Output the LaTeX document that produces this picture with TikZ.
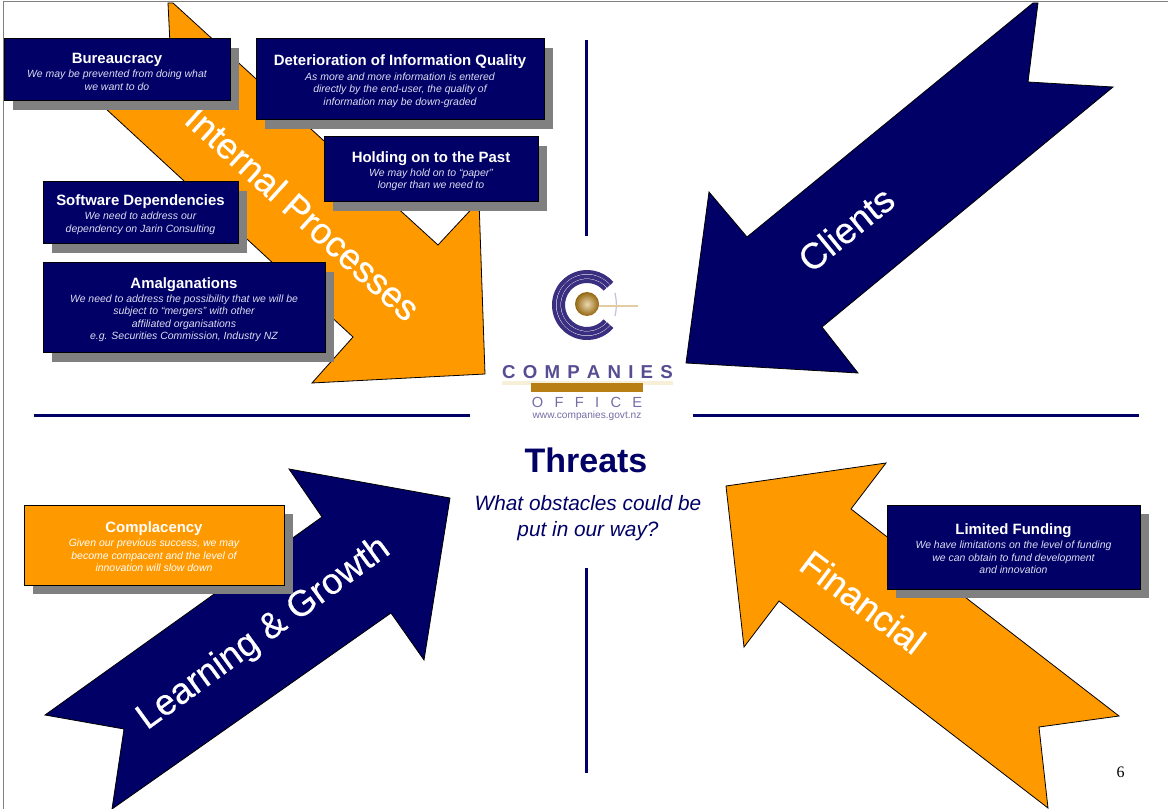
\documentclass[tikz,border=0pt]{standalone}
\usepackage{fontspec}
\usetikzlibrary{shadows}
\setmainfont{Liberation Sans}
\newfontfamily\pagefont{Liberation Serif}
\newfontfamily\arrowfont[FakeBold=0.5]{Liberation Sans}
\definecolor{navyfill}{HTML}{000066}
\definecolor{orangefill}{HTML}{FF9900}
\definecolor{shadowgray}{HTML}{808080}
\definecolor{logoblue}{HTML}{3A2E80}
\definecolor{logogold}{HTML}{B87F14}
\definecolor{logocream}{HTML}{F8EFD8}
\definecolor{notetext}{HTML}{DDDDF2}
\newcommand{\px}{.75pt}
\newcommand{\boxhead}[1]{{\fontsize{11.2pt}{11.5pt}\selectfont\normalfont\bfseries\color{white}\rule{0pt}{10.6pt}#1}\\[1.2pt]}
\tikzset{
  bigarrow/.style={draw=black,line width=.6pt,line join=miter},
  arrowlabel/.style={text=white,font=\arrowfont\fontsize{27.2pt}{30pt}\selectfont,inner sep=0pt},
  threatbox/.style={draw=black,line width=.75pt,fill=navyfill,align=center,inner sep=0pt,
    font=\fontsize{7.85pt}{9.4pt}\selectfont\itshape,text=notetext,
    drop shadow={shadow xshift=6.75pt,shadow yshift=-6.75pt,fill=shadowgray,opacity=1}},
  divider/.style={draw=navyfill,line width=2.25pt},
}
\begin{document}
\begin{tikzpicture}[x=.75pt,y=-.75pt]
\useasboundingbox (0,0) rectangle (1168,809);
\fill[white] (0,0) rectangle (1168,809);
\draw[gray,line width=.75pt] (3,809) -- (3,2) -- (1168,2);

% dividers
\draw[divider] (586,40) -- (586,236);
\draw[divider] (586,568) -- (586,773);
\draw[divider] (34,415) -- (470,415);
\draw[divider] (693,415) -- (1139,415);

% arrows
\draw[bigarrow,fill=orangefill] (168,3) -- (173,3) -- (438,245) -- (479,201) -- (485,374)
  -- (312,383) -- (353,337) -- (92,96) -- (172,85) -- cycle;
\draw[bigarrow,fill=navyfill] (1033,3) -- (1038,3) -- (1028,82) -- (1113,87) -- (822,327)
  -- (858,373) -- (686,363) -- (709,192) -- (747,237) -- cycle;
\draw[bigarrow,fill=navyfill] (289,469) -- (450,498) -- (424,660) -- (391,613) -- (112,809)
  -- (124,729) -- (45,715) -- (322,517) -- cycle;
\draw[bigarrow,fill=orangefill] (726,486) -- (886,463) -- (851,509) -- (1119,716) -- (1039,727)
  -- (1048,808) -- (779,601) -- (744,647) -- cycle;

\node[arrowlabel,rotate=-42] (internal) at (303,213) {Internal Processes};
\node[arrowlabel,rotate=39] (clients) at (846,229) {Clients};
\node[arrowlabel,rotate=36] (learning) at (264,634) {Learning \& Growth};
\node[arrowlabel,rotate=-37] (financial) at (863,602) {Financial};

% boxes
\node[threatbox,minimum width=226*\px,minimum height=62*\px] (bureaucracy) at (117,70)
  {\boxhead{Bureaucracy}We may be prevented from doing what\\we want to do};
\node[threatbox,minimum width=288*\px,minimum height=81*\px] (deterioration) at (400,79.5)
  {\boxhead{Deterioration of Information Quality}As more and more information is entered\\directly by the end-user, the quality of\\information may be down-graded};
\node[threatbox,minimum width=214*\px,minimum height=65*\px] (holding) at (431,169.5)
  {\boxhead{Holding on to the Past}We may hold on to “paper”\\longer than we need to};
\node[threatbox,minimum width=195*\px,minimum height=62*\px] (software) at (140.5,213)
  {\boxhead{Software Dependencies}We need to address our\\dependency on Jarin Consulting};
\node[threatbox,minimum width=282*\px,minimum height=90*\px] (amalgamations) at (184,308)
  {\boxhead{Amalganations}We need to address the possibility that we will be\\subject to “mergers” with other\\affiliated organisations\\e.g. Securities Commission, Industry NZ};
\node[threatbox,fill=orangefill,text=white,minimum width=260*\px,minimum height=80*\px] (complacency) at (154,545)
  {\boxhead{Complacency}Given our previous success, we may\\become compacent and the level of\\innovation will slow down};
\node[threatbox,minimum width=253*\px,minimum height=84*\px] (funding) at (1013.5,547)
  {\boxhead{Limited Funding}We have limitations on the level of funding\\we can obtain to fund development\\and innovation};

% logo
\foreach \r in {33,28.5,24}
  \draw[logoblue,line width=3pt] (587,305) ++(41:\r) arc[start angle=41,end angle=319,radius=\r];
\draw[logoblue!30,line width=.9pt] (615,293) to[bend left=12] (615,316);
\draw[logogold!40,line width=1.6pt] (598,306) -- (638,306);
\shade[inner color=logocream!80!logogold,outer color=logogold!80!black] (587,304) circle[radius=12];
\fill[logocream] (502,381.5) rectangle (673,385);
\fill[logogold] (531,383) rectangle (643,392);
\node[text=logoblue!85,font=\fontsize{14pt}{15pt}\selectfont\bfseries,inner sep=0pt] (companies) at (587.5,372) {C\hspace{5.4pt}O\hspace{5.4pt}M\hspace{5.4pt}P\hspace{5.4pt}A\hspace{5.4pt}N\hspace{5.4pt}I\hspace{5.4pt}E\hspace{5.4pt}S};
\node[text=logoblue!70,font=\fontsize{11pt}{12pt}\selectfont,inner sep=0pt] (office) at (587,402) {O\hspace{8.5pt}F\hspace{8.5pt}F\hspace{8.5pt}I\hspace{8.5pt}C\hspace{8.5pt}E};
\node[text=logoblue!70,font=\fontsize{7.6pt}{8pt}\selectfont,inner sep=0pt] (website) at (587,415.5) {www.companies.govt.nz};

% centre text
\node[text=navyfill,font=\fontsize{25.5pt}{28pt}\bfseries\selectfont,inner sep=0pt] (threats) at (586,460) {Threats};
\node[text=navyfill,align=center,font=\fontsize{15.6pt}{19.6pt}\itshape\selectfont,inner sep=0pt] (question) at (588,518.5) {What obstacles could be\\put in our way?};
\node[font=\pagefont\fontsize{12pt}{14pt}\selectfont,inner sep=0pt] (pagenum) at (1120.5,772) {6};
\end{tikzpicture}
\end{document}
